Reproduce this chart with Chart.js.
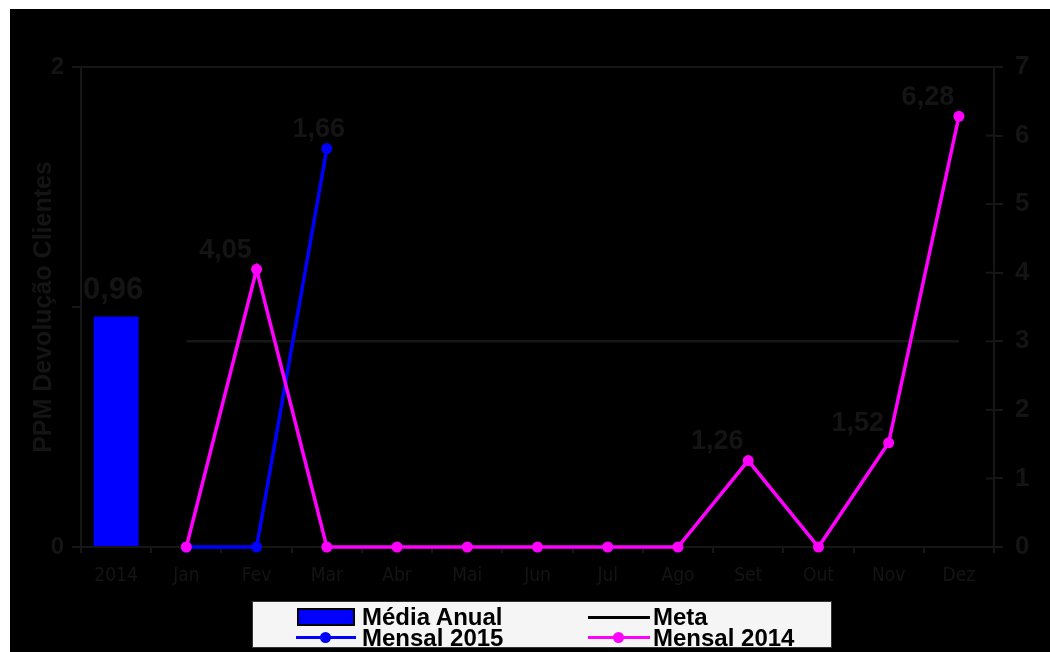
<!DOCTYPE html>
<html>
<head>
<meta charset="utf-8">
<script src="https://cdn.jsdelivr.net/npm/chart.js@4.4.0/dist/chart.umd.min.js"></script>
<style>
html,body{margin:0;padding:0;background:#fff;}
#wrap{position:relative;width:1050px;height:652px;overflow:hidden;}
#c{position:absolute;left:0;top:0;}
#legend{position:absolute;left:252px;top:601px;width:580px;height:47px;background:#f5f5f5;border:1px solid #333;box-sizing:border-box;}
.sym{position:absolute;box-sizing:border-box;}
.dot{position:absolute;width:11px;height:11px;border-radius:50%;}
.lbl{position:absolute;font:bold 24px "Liberation Sans",Arial,sans-serif;color:#000;white-space:nowrap;line-height:24px;height:24px;}
</style>
</head>
<body>
<div id="wrap">
<canvas id="c" width="1050" height="652"></canvas>
<div id="legend">
  <div class="sym" style="left:44px;top:6px;width:58px;height:18px;background:#0000ff;border:2px solid #000;"></div>
  <div class="lbl" style="left:109px;top:3px;">Média Anual</div>
  <div class="sym" style="left:335px;top:14px;width:62px;height:3px;background:#000;"></div>
  <div class="lbl" style="left:400px;top:3px;">Meta</div>
  <div class="sym" style="left:43px;top:34px;width:60px;height:3px;background:#0000ff;"></div>
  <div class="dot" style="left:67px;top:30px;background:#0000ff;"></div>
  <div class="lbl" style="left:109px;top:24px;">Mensal 2015</div>
  <div class="sym" style="left:335px;top:34px;width:62px;height:3px;background:#ff00ff;"></div>
  <div class="dot" style="left:360px;top:30px;background:#ff00ff;"></div>
  <div class="lbl" style="left:400px;top:24px;">Mensal 2014</div>
</div>
</div>
<script>
// ---- data ----
const categories = ['2014','Jan','Fev','Mar','Abr','Mai','Jun','Jul','Ago','Set','Out','Nov','Dez'];
const mediaAnual = [0.96, null, null, null, null, null, null, null, null, null, null, null, null];
const meta       = [null, 3, 3, 3, 3, 3, 3, 3, 3, 3, 3, 3, 3];
const mensal2015 = [null, 0, 0, 1.66, null, null, null, null, null, null, null, null, null];
const mensal2014 = [null, 0, 4.05, 0, 0, 0, 0, 0, 0, 1.26, 0, 1.52, 6.28];
const leftTickLabels  = ['0', '', '2'];
const rightTickLabels = ['0','1','2','3','4','5','6','7'];

// ---- styles ----
const TXT = '#141414';
const AX = '#161616';
const labelStyle = {
  bar:   {dx: -3,  dy: -26, size: 31},
  m2015: {dx: -8,  dy: -19, size: 27},
  m2014: {dx: -31, dy: -19, size: 27}
};

function fontAvailable(name){
  const c = document.createElement('canvas').getContext('2d');
  const t = 'Jan Fev 2014 Mar Abr Mai Jun';
  c.font = '21px monospace'; const a = c.measureText(t).width;
  c.font = '21px "' + name + '", monospace'; const b = c.measureText(t).width;
  return a !== b;
}
let xFont = {family: '"Liberation Sans", Arial', size: 17};
const condensed = [['Liberation Sans Narrow', 21], ['DejaVu Sans Condensed', 19], ['Roboto Condensed', 20], ['Open Sans Condensed', 21]];
for (const [name, size] of condensed) {
  if (fontAvailable(name)) { xFont = {family: '"' + name + '"', size: size}; break; }
}

const bgPlugin = {
  id: 'bg',
  beforeDraw(chart){
    const ctx = chart.ctx;
    ctx.save();
    ctx.fillStyle = '#ffffff';
    ctx.fillRect(0, 0, chart.width, chart.height);
    ctx.fillStyle = '#000000';
    ctx.fillRect(10, 9, chart.width - 10, chart.height - 9);
    ctx.restore();
  },
  beforeDatasetsDraw(chart){
    const ctx = chart.ctx, a = chart.chartArea;
    ctx.save();
    ctx.strokeStyle = AX; ctx.lineWidth = 2;
    ctx.beginPath(); ctx.moveTo(a.left, a.top); ctx.lineTo(a.right, a.top); ctx.stroke();
    const s = chart.scales.y1;
    s.ticks.forEach(t => {
      const y = s.getPixelForValue(t.value);
      ctx.beginPath(); ctx.moveTo(a.right - 8, y); ctx.lineTo(a.right, y); ctx.stroke();
    });
    ctx.restore();
  }
};

const labelPlugin = {
  id: 'vlabels',
  afterDatasetsDraw(chart){
    const ctx = chart.ctx;
    ctx.save();
    chart.data.datasets.forEach((ds, i) => {
      const st = labelStyle[ds.labelKey];
      if (!st) return;
      const meta = chart.getDatasetMeta(i);
      meta.data.forEach((el, j) => {
        const v = ds.data[j];
        if (v === null || v === 0) return;
        ctx.font = 'bold ' + st.size + 'px "Liberation Sans", Arial, sans-serif';
        ctx.fillStyle = TXT;
        ctx.textAlign = 'center';
        ctx.textBaseline = 'middle';
        ctx.fillText(v.toFixed(2).replace('.', ','), el.x + st.dx, el.y + st.dy);
      });
    });
    ctx.restore();
  }
};

new Chart(document.getElementById('c'), {
  type: 'bar',
  data: {
    labels: categories,
    datasets: [
      {type: 'line', label: 'Mensal 2014', labelKey: 'm2014', data: mensal2014, yAxisID: 'y1',
       borderColor: '#ff00ff', backgroundColor: '#ff00ff', borderWidth: 3.5, clip: false,
       pointRadius: 5.5, pointBorderWidth: 0, pointBackgroundColor: '#ff00ff', tension: 0, order: 0},
      {type: 'line', label: 'Mensal 2015', labelKey: 'm2015', data: mensal2015, yAxisID: 'y',
       borderColor: '#0000ff', backgroundColor: '#0000ff', borderWidth: 3.5, clip: false,
       pointRadius: 5.5, pointBorderWidth: 0, pointBackgroundColor: '#0000ff', tension: 0, order: 1},
      {type: 'line', label: 'Meta', data: meta, yAxisID: 'y1',
       borderColor: AX, borderWidth: 2.5, pointRadius: 0, tension: 0, order: 2},
      {type: 'bar', label: 'Média Anual', labelKey: 'bar', data: mediaAnual, yAxisID: 'y',
       backgroundColor: '#0000ff', borderWidth: 0, barPercentage: 0.64, categoryPercentage: 1, order: 3}
    ]
  },
  options: {
    responsive: false,
    animation: false,
    devicePixelRatio: 1,
    layout: {padding: {top: 67, left: 0, right: 0, bottom: 0}},
    plugins: {legend: {display: false}, tooltip: {enabled: false}},
    scales: {
      x: {
        offset: true,
        grid: {offset: true, drawOnChartArea: false, drawTicks: true, tickLength: 6, color: AX, lineWidth: 2},
        border: {display: true, color: AX, width: 2},
        ticks: {color: TXT, font: xFont, padding: 12, maxRotation: 0, autoSkip: false},
        afterFit(s){ s.height = 105; }
      },
      y: {
        position: 'left', min: 0, max: 2,
        grid: {drawOnChartArea: false, drawTicks: true, tickLength: 9, color: AX, lineWidth: 2},
        border: {display: true, color: AX, width: 2},
        ticks: {stepSize: 1, color: TXT, padding: 8,
                font: {family: '"Liberation Sans", Arial', size: 24, weight: 'bold'},
                callback: (v, i) => leftTickLabels[i]},
        title: {display: true, text: 'PPM Devolução Clientes', color: TXT,
                font: {family: '"Liberation Sans", Arial', size: 25, weight: 'bold'},
                padding: {top: 29, bottom: 0}},
        afterFit(s){ s.width = 81; }
      },
      y1: {
        position: 'right', min: 0, max: 7,
        grid: {drawOnChartArea: false, drawTicks: true, tickLength: 9, color: AX, lineWidth: 2},
        border: {display: true, color: AX, width: 2},
        ticks: {stepSize: 1, color: TXT, padding: 12,
                font: {family: '"Liberation Sans", Arial', size: 26, weight: 'bold'},
                callback: (v, i) => rightTickLabels[i]},
        afterFit(s){ s.width = 56; }
      }
    }
  },
  plugins: [bgPlugin, labelPlugin]
});
</script>
</body>
</html>
